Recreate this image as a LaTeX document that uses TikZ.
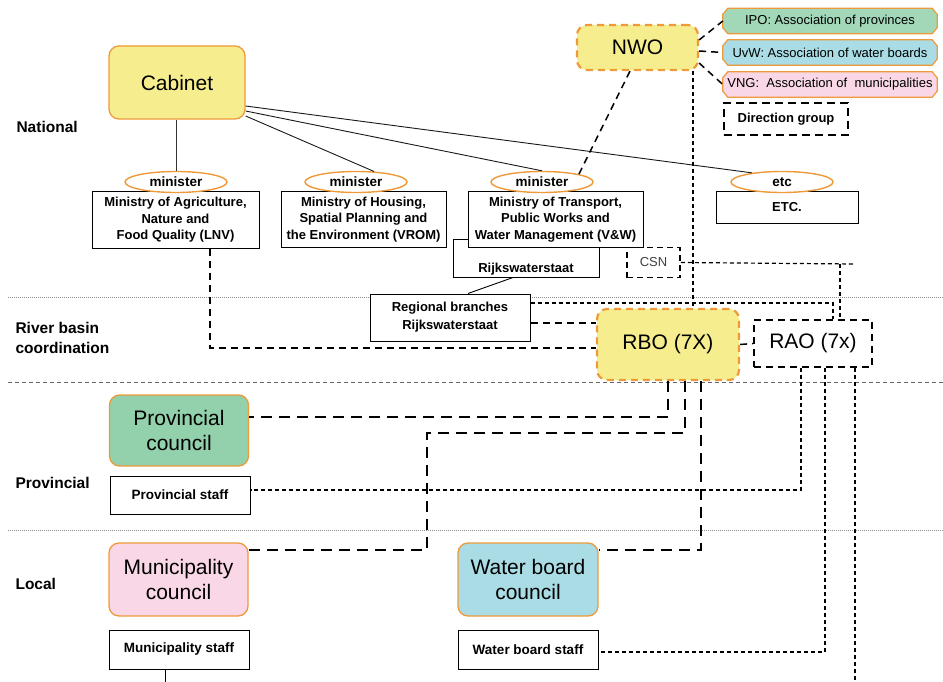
\documentclass[tikz,border=0pt]{standalone}
\usepackage{fontspec}
\setmainfont{Liberation Sans}
\usetikzlibrary{shapes.geometric,backgrounds}

\definecolor{cabyellow}{HTML}{F6EE8E}
\definecolor{edgeorange}{HTML}{EE9A3A}
\definecolor{provgreen}{HTML}{92D1AC}
\definecolor{wbblue}{HTML}{A9DCE5}
\definecolor{munpink}{HTML}{F9D7E6}
\definecolor{sepgray}{HTML}{8C8C8C}

\tikzset{
  bigfont/.style={font=\fontsize{21}{25}\selectfont},
  council/.style={draw=edgeorange, line width=1.3pt, rounded corners=10pt, bigfont,
    align=center, minimum width=139, minimum height=71, inner sep=2pt},
  orgdash/.style={draw=edgeorange, line width=2.2pt, dash pattern=on 7pt off 5pt,
    rounded corners=10pt, fill=cabyellow, bigfont, inner sep=2pt},
  minbox/.style={draw, line width=1pt, fill=white, align=center, inner sep=2pt,
    font=\bfseries\fontsize{13}{16.5}\selectfont},
  staffbox/.style={draw, line width=1pt, fill=white, minimum width=140, minimum height=38,
    inner sep=2pt, font=\bfseries\fontsize{13.5}{16}\selectfont},
  minell/.style={ellipse, draw=edgeorange, line width=1.4pt, fill=white, minimum width=102,
    minimum height=21, inner sep=0pt, font=\bfseries\fontsize{13.5}{15}\selectfont},
  assoc/.style={minimum width=214, minimum height=25, inner sep=0pt,
    font=\fontsize{13}{15}\selectfont},
  assocedge/.style={draw=edgeorange, line width=1.2pt},
  level/.style={font=\bfseries\fontsize{15.5}{20}\selectfont, align=left, anchor=west},
  linkthick/.style={line width=2.8pt, dash pattern=on 11pt off 7pt},
  linkmid/.style={line width=1.5pt, dash pattern=on 7pt off 5pt},
  linkthin/.style={line width=1.2pt, dash pattern=on 4pt off 3pt},
  sepline/.style={sepgray, line width=0.8pt, dash pattern=on 1pt off 1pt},
}

\begin{document}
\begin{tikzpicture}[x=1pt,y=-1pt]
\useasboundingbox (0,0) rectangle (943,682);

% level separators
\draw[sepline] (8,297) -- (943,297);
\draw[sepline, black!60, dash pattern=on 4pt off 3pt] (8,382) -- (943,382);
\draw[sepline] (8,530) -- (943,530);

% level labels
\node[level] (lnational) at (13,127) {National};
\node[level] (lbasin) at (12,338) {River basin\\coordination};
\node[level] (lprov) at (12,483) {Provincial};
\node[level] (llocal) at (12,584) {Local};

% national
\node[council, fill=cabyellow, minimum width=136, minimum height=73] (cabinet) at (177,82.5) {Cabinet};
\node[orgdash, minimum width=121, minimum height=45] (nwo) at (637.5,47.5) {NWO};
\node[assoc] (ipo) at (830,21) {IPO: Association of provinces};
\node[assoc] (uvw) at (830,52.5) {UvW: Association of water boards};
\node[assoc] (vng) at (830,84.5) {VNG:\ \ Association of\ \ municipalities};
\node[draw, line width=1.8pt, dash pattern=on 8pt off 5pt, minimum width=124, minimum height=32,
  font=\bfseries\fontsize{13}{15}\selectfont] (direction) at (786,119) {Direction group};

\node[draw, line width=1pt, fill=white, minimum width=146, inner sep=3pt, text height=30pt,
  text depth=2pt, font=\bfseries\fontsize{13}{15}\selectfont] (rws) at (526,258) {Rijkswaterstaat};
\node[minbox, minimum width=167, minimum height=56] (lnv) at (175.5,220)
  {Ministry of Agriculture,\\Nature and\\Food Quality (LNV)};
\node[minbox, minimum width=165, minimum height=55] (vrom) at (363.5,219.5)
  {Ministry of Housing,\\Spatial Planning and\\the Environment (VROM)};
\node[minbox, minimum width=175, minimum height=55] (vw) at (555.5,219.5)
  {Ministry of Transport,\\Public Works and\\Water Management (V\&W)};
\node[minbox, minimum width=142, minimum height=31] (etcbox) at (787,207.5) {ETC.};

\node[minell] (min1) at (176,182) {minister};
\node[minell] (min2) at (356,182) {minister};
\node[minell] (min3) at (542,182) {minister};
\node[minell] (etc) at (782,182) {etc};

\node[draw, line width=1.6pt, dash pattern=on 6pt off 4pt, minimum width=53, minimum height=30,
  text=black!75, font=\fontsize{13}{15}\selectfont] (csn) at (653.5,262.5) {CSN};

% river basin
\node[minbox, minimum width=160, minimum height=47, font=\bfseries\fontsize{13}{18}\selectfont]
  (regional) at (450,317.5) {Regional branches\\Rijkswaterstaat};
\node[orgdash, minimum width=142, minimum height=71] (rbo) at (668,344.5) {RBO (7X)};
\node[draw, line width=1.8pt, dash pattern=on 7pt off 5pt, minimum width=118, minimum height=47,
  bigfont] (rao) at (813,343.5) {RAO (7x)};

% provincial and local
\node[council, fill=provgreen] (pcouncil) at (179,430.5) {Provincial\\council};
\node[staffbox] (pstaff) at (180,495) {Provincial staff};
\node[council, fill=munpink, minimum height=73] (mcouncil) at (178.5,579.5) {Municipality\\council};
\node[staffbox, minimum height=39] (mstaff) at (179,649.5) {Municipality staff};
\node[council, fill=wbblue, minimum width=140, minimum height=73] (wcouncil) at (528,579.5) {Water board\\council};
\node[staffbox, minimum height=39] (wstaff) at (528,649.5) {Water board staff};

% page and association boxes behind the texts
\begin{pgfonlayer}{background}
\fill[white] (0,0) rectangle (943,682);
\foreach \n/\c in {ipo/provgreen!85!white, uvw/wbblue, vng/munpink}
  \filldraw[assocedge, fill=\c] ([xshift=5pt]\n.north west) -- ([xshift=-5pt]\n.north east)
    -- ([yshift=-6pt]\n.north east) -- ([yshift=6pt]\n.south east)
    -- ([xshift=-5pt]\n.south east) -- ([xshift=5pt]\n.south west)
    -- ([yshift=6pt]\n.south west) -- ([yshift=-6pt]\n.north west) -- cycle;
\end{pgfonlayer}

\coordinate (csnend) at (855,264);
\coordinate (bottomL) at (165,682);
\coordinate (bottomR) at (855,682);

% hierarchy
\draw[black!80, line width=0.9pt] (cabinet.south -| min1.north) -- (min1.north);
\draw[black!90, line width=0.9pt] (cabinet.east |- 0,116) -- (min2.30);
\draw[black!90, line width=0.9pt] (cabinet.east |- 0,111) -- (min3.north);
\draw[black!90, line width=0.9pt] (cabinet.east |- 0,106) -- (etc.163);
\draw[line width=0.9pt] (rws.south -| 513,0) -- (regional.north -| 468,0);

% NWO links
\draw[linkmid] (nwo.east |- 0,40) -- (ipo.west);
\draw[linkmid] (nwo.east |- 0,51) -- (uvw.west);
\draw[linkmid] (nwo.east |- 0,63) -- (vng.west);
\draw[linkmid] (nwo.south -| 630,0) -- (min3.12);
\draw[linkthin] (nwo.south -| 693,0) -- (rbo.north -| 693,0);

% basin links
\draw[linkmid] (lnv.south -| 210,0) |- (rbo.west |- 0,348);
\draw[linkmid] (regional.east |- 0,323) -- (rbo.west |- 0,323);
\draw[linkthin] (regional.east |- 0,303) -| (rao.north -| 833,0);
\draw[linkthin] (csn.east) -- (csnend);
\draw[linkthin] (csnend -| 840,0) -- (rao.north -| 840,0);
\draw[linkmid] (rbo.east) -- (rao.west);

% RBO to councils
\draw[linkthick] (rbo.south -| 668,0) |- (pcouncil.east |- 0,417);
\draw[linkthick] (rbo.south -| 685,0) |- (427,433) |- (mcouncil.east |- 0,550);
\draw[linkthick] (rbo.south -| 701,0) |- (wcouncil.east |- 0,550);

% RAO to staff
\draw[linkthin] (rao.south -| 801,0) |- (pstaff.east |- 0,490);
\draw[linkthin] (rao.south -| 825,0) |- (wstaff.east |- 0,652);
\draw[linkthin] (rao.south -| 855,0) -- (bottomR);
\draw[line width=0.9pt] (mstaff.south -| bottomL) -- (bottomL);
\end{tikzpicture}
\end{document}
